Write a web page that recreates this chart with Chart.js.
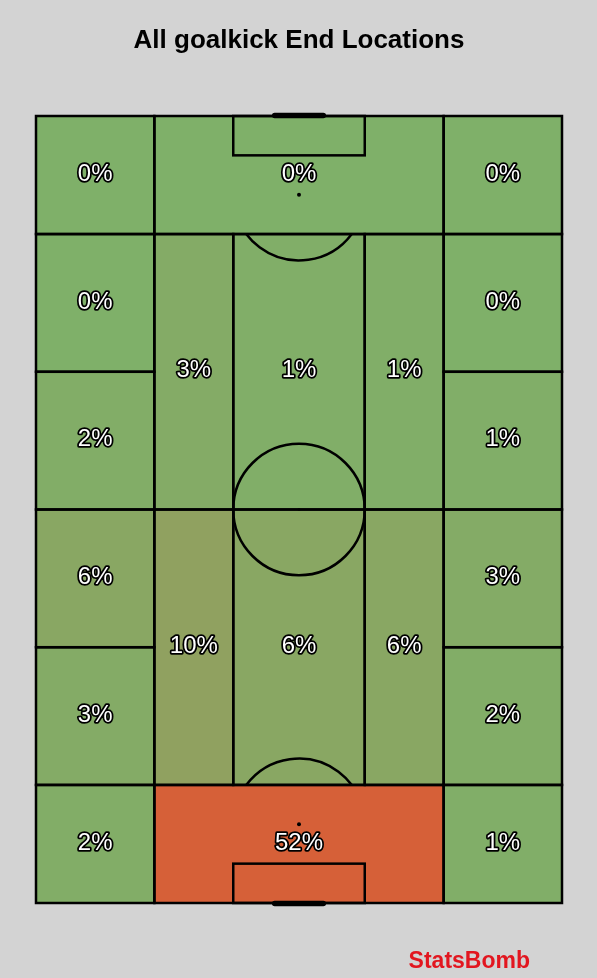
<!DOCTYPE html>
<html><head><meta charset="utf-8">
<script src="https://cdn.jsdelivr.net/npm/chart.js@4"></script>
<style>html,body{margin:0;padding:0;background:#d3d3d3;}#wrap{width:597px;height:978px;}</style>
</head><body><div id="wrap"><canvas id="c" width="597" height="978"></canvas></div>
<script>
// Zones in pitch units (StatsBomb 80 x 120, vertical orientation)
const zoneXStart = [0, 18, 62,   0, 0, 18, 30, 50, 62, 62,   0, 0, 18, 30, 50, 62, 62,   0, 18, 62];
const zoneXEnd   = [18, 62, 80,  18, 18, 30, 50, 62, 80, 80,  18, 18, 30, 50, 62, 80, 80,  18, 62, 80];
const zoneYStart = [0, 0, 0,     18, 39, 18, 18, 18, 18, 39,  60, 81, 60, 60, 60, 60, 81,  102, 102, 102];
const zoneYEnd   = [18, 18, 18,  39, 60, 60, 60, 60, 39, 60,  81, 102, 102, 102, 102, 81, 102, 120, 120, 120];
const zoneShare  = [0, 0, 0,     0, 2, 3, 1, 1, 0, 1,         6, 3, 10, 6, 6, 3, 2,         2, 52, 1];

const lowColor = [127, 176, 105];
const highColor = [214, 96, 56];
const maxShare = Math.max(...zoneShare);
function shade(v){
  const t = v / maxShare;
  const c = lowColor.map((l,i)=>Math.round(l + (highColor[i]-l)*t));
  return `rgb(${c[0]},${c[1]},${c[2]})`;
}

const pitchPlugin = {
  id: 'pitch',
  beforeDatasetsDraw(chart){
    const ctx = chart.ctx, xs = chart.scales.x, ys = chart.scales.y;
    const X = v => xs.getPixelForValue(v), Y = v => ys.getPixelForValue(v);
    ctx.save();
    for (let i=0;i<zoneShare.length;i++){
      const x0=X(zoneXStart[i]), x1=X(zoneXEnd[i]), y0=Y(zoneYStart[i]), y1=Y(zoneYEnd[i]);
      ctx.fillStyle = shade(zoneShare[i]);
      ctx.fillRect(x0,y0,x1-x0,y1-y0);
    }
    ctx.strokeStyle = '#000'; ctx.lineWidth = 2.5; ctx.lineJoin='miter';
    for (let i=0;i<zoneShare.length;i++){
      const x0=X(zoneXStart[i]), x1=X(zoneXEnd[i]), y0=Y(zoneYStart[i]), y1=Y(zoneYEnd[i]);
      ctx.strokeRect(x0,y0,x1-x0,y1-y0);
    }
    ctx.strokeRect(X(30),Y(0),X(50)-X(30),Y(6)-Y(0));
    ctx.strokeRect(X(30),Y(114),X(50)-X(30),Y(120)-Y(114));
    const r = X(10)-X(0);
    ctx.beginPath(); ctx.arc(X(40),Y(60),r,0,Math.PI*2); ctx.stroke();
    const a = Math.asin(0.6);
    ctx.beginPath(); ctx.arc(X(40),Y(12),r,a,Math.PI-a); ctx.stroke();
    ctx.beginPath(); ctx.arc(X(40),Y(108),r,Math.PI+a,2*Math.PI-a); ctx.stroke();
    ctx.fillStyle='#000';
    [[40,12,2],[40,108,2],[40,60,1.3]].forEach(p=>{ctx.beginPath();ctx.arc(X(p[0]),Y(p[1]),p[2],0,Math.PI*2);ctx.fill();});
    ctx.lineWidth=5.5; ctx.lineCap='round';
    ctx.beginPath(); ctx.moveTo(X(36.3),Y(0)-0.5); ctx.lineTo(X(43.7),Y(0)-0.5); ctx.stroke();
    ctx.beginPath(); ctx.moveTo(X(36.3),Y(120)+0.5); ctx.lineTo(X(43.7),Y(120)+0.5); ctx.stroke();
    ctx.font = '24px "Liberation Sans", Arial, sans-serif';
    ctx.textAlign='center'; ctx.textBaseline='middle';
    ctx.lineJoin='round'; ctx.lineWidth=3.5; ctx.strokeStyle='#000'; ctx.fillStyle='#fff';
    for (let i=0;i<zoneShare.length;i++){
      const cx=(X(zoneXStart[i])+X(zoneXEnd[i]))/2, cy=(Y(zoneYStart[i])+Y(zoneYEnd[i]))/2;
      const t = zoneShare[i] + '%';
      ctx.strokeText(t,cx,cy-1); ctx.fillText(t,cx,cy-1);
    }
    ctx.font='bold 23px "Liberation Sans", Arial, sans-serif';
    ctx.textAlign='right'; ctx.textBaseline='alphabetic'; ctx.fillStyle='#e2161f';
    ctx.fillText('StatsBomb', 530, 968);
    ctx.restore();
  }
};

new Chart(document.getElementById('c'), {
  type: 'scatter',
  data: { datasets: [{ data: [], pointRadius: 0 }] },
  options: {
    responsive:false, animation:false,
    layout:{padding:{left:36,right:35,top:0,bottom:75}},
    plugins:{
      legend:{display:false}, tooltip:{enabled:false},
      title:{display:true,text:'All goalkick End Locations',color:'#000',
        font:{family:'"Liberation Sans", Arial, sans-serif',size:26,weight:'bold'},
        padding:{top:25,bottom:59.8}}
    },
    scales:{
      x:{type:'linear',min:0,max:80,display:false},
      y:{type:'linear',min:0,max:120,reverse:true,display:false}
    }
  },
  plugins:[pitchPlugin]
});
</script></body></html>
